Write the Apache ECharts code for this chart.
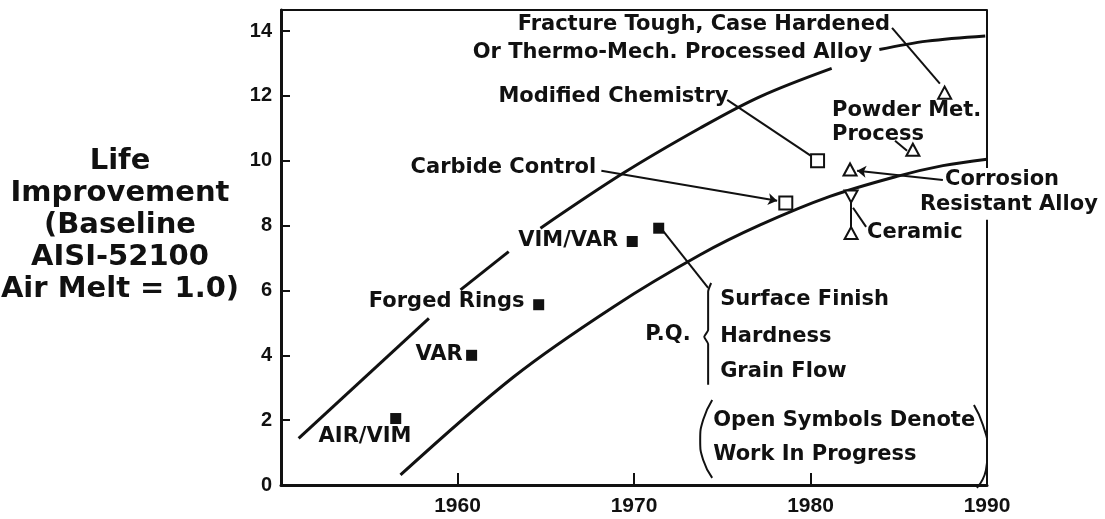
<!DOCTYPE html>
<html>
<head>
<meta charset="utf-8">
<script src="https://cdn.jsdelivr.net/npm/echarts@6/dist/echarts.min.js"></script>
<style>
html,body{margin:0;padding:0;background:#fff;}
#chart{width:1105px;height:519px;}
</style>
</head>
<body>
<div id="chart"></div>
<script>
// ---- data (years on x, life improvement on y) ----
const xTickValues = [1960, 1970, 1980, 1990];
const yTickValues = [0, 2, 4, 6, 8, 10, 12, 14];

// upper envelope curve (null = gap where text crosses)
const upperCurve = [
  [1951.0, 1.44], [1958.38, 5.14], null,
  [1960.17, 6.02], [1962.9, 7.2], null,
  [1964.7, 7.92], [1969.4, 9.62], [1973.75, 11.01], [1977.15, 11.98], [1981.2, 12.85], null,
  [1983.9, 13.43], [1986.6, 13.69], [1989.9, 13.85]
];
// lower envelope curve
const lowerCurve = [
  [1956.77, 0.31], [1963.19, 3.34], [1968.85, 5.5], [1973.75, 7.1],
  [1977.15, 8.02], [1981.1, 8.9], [1984.9, 9.52], [1987.5, 9.85], [1990, 10.05]
];

// achieved (filled) improvements
const filledNames = ['AIR/VIM', 'VAR', 'Forged Rings', 'VIM/VAR', 'P.Q.'];
const filledValues = [[1956.5, 2.05], [1960.8, 4.0], [1964.6, 5.56], [1969.9, 7.51], [1971.4, 7.92]];

// work in progress (open symbols)
const openSquareNames = ['Modified Chemistry', 'Carbide Control'];
const openSquareValues = [[1980.4, 10.0], [1978.6, 8.7]];
const openTriangleNames = ['Fracture Tough', 'Powder Met. Process', 'Corrosion Resistant Alloy', 'Ceramic'];
const openTriangleValues = [[1987.6, 12.1], [1985.8, 10.34], [1982.24, 9.73], [1982.3, 7.77]];
const openTriangleDownValues = [[1982.3, 8.9]];

// leader lines [from, to]
const leaderLines = [
  [[1984.62, 14.1], [1987.33, 12.38]],
  [[1975.28, 11.88], [1980.03, 10.15]],
  [[1984.79, 10.62], [1985.47, 10.31]],
  [[1982.28, 8.8], [1982.28, 7.93]],
  [[1982.41, 8.55], [1983.15, 7.96]],
  [[1971.6, 7.87], [1974.2, 6.08]]
];
const arrowLines = [
  [[1968.15, 9.69], [1978.11, 8.77]],
  [[1987.5, 9.41], [1982.64, 9.69]]
];

// brace and parentheses outlines
const bracePath = [[1974.37, 6.23], [1974.2, 5.96], [1974.2, 4.78], [1973.98, 4.57], [1974.2, 4.35], [1974.2, 3.09]];
const leftParenPath = [[1974.43, 2.62], [1973.92, 2.01], [1973.75, 1.39], [1973.92, 0.77], [1974.43, 0.22]];
const rightParenPath = [[1989.26, 2.47], [1989.77, 1.85], [1990.05, 1.08], [1989.94, 0.46], [1989.43, -0.09]];
const rightBorder = [[[1990, 0], [1990, 8.18]], [[1990, 9.78], [1990, 14.65]]];

// annotation texts: [text, x, y, side] side L = text starts at point, R = text ends at point
const annotationTexts = [
  ['Fracture Tough, Case Hardened', 1984.5, 14.2, 'R'],
  ['Or Thermo-Mech. Processed Alloy', 1983.49, 13.33, 'R'],
  ['Modified Chemistry', 1962.32, 11.98, 'L'],
  ['Carbide Control', 1957.34, 9.78, 'L'],
  ['VIM/VAR', 1969.1, 7.53, 'R'],
  ['Forged Rings', 1963.8, 5.65, 'R'],
  ['VAR', 1960.3, 4.01, 'R'],
  ['AIR/VIM', 1952.13, 1.48, 'L'],
  ['P.Q.', 1970.64, 4.63, 'L'],
  ['Surface Finish', 1974.88, 5.71, 'L'],
  ['Hardness', 1974.88, 4.57, 'L'],
  ['Grain Flow', 1974.88, 3.49, 'L'],
  ['Open Symbols Denote', 1974.49, 1.98, 'L'],
  ['Work In Progress', 1974.49, 0.93, 'L'],
  ['Powder Met.', 1981.22, 11.54, 'L'],
  ['Process', 1981.22, 10.8, 'L'],
  ['Corrosion', 1987.62, 9.41, 'L'],
  ['Resistant Alloy', 1986.2, 8.64, 'L'],
  ['Ceramic', 1983.2, 7.78, 'L']
];
const yAxisTitle = ['Life', 'Improvement', '(Baseline', 'AISI-52100', 'Air Melt = 1.0)'];

// ---- chart ----
const INK = '#111';
const textFont = { fontFamily: 'DejaVu Sans', fontWeight: 'bold', fontSize: 21, color: INK };

function splitSegments(arr) {
  const segs = [[]];
  arr.forEach(p => { if (p === null) segs.push([]); else segs[segs.length - 1].push(p); });
  return segs.filter(s => s.length);
}
function lineSeries(data, width, smooth) {
  return {
    type: 'line', data: data, smooth: smooth, symbol: 'none', silent: true, clip: false,
    lineStyle: { color: INK, width: width, opacity: 1 }, z: 3, animation: false
  };
}

const series = [];
splitSegments(upperCurve).forEach(s => series.push(lineSeries(s, 3, 0.35)));
series.push(lineSeries(lowerCurve, 3, 0.35));
series.push(lineSeries(bracePath, 2, 0.2));
series.push(lineSeries(leftParenPath, 2, 0.5));
series.push(lineSeries(rightParenPath, 2, 0.5));
rightBorder.forEach(s => series.push(lineSeries(s, 2, false)));

series.push({
  type: 'lines', coordinateSystem: 'cartesian2d', silent: true, animation: false, z: 3,
  data: leaderLines.map(c => ({ coords: c })),
  lineStyle: { color: INK, width: 2, curveness: 0, opacity: 1 }
});
series.push({
  type: 'lines', coordinateSystem: 'cartesian2d', silent: true, animation: false, z: 3,
  symbol: ['none', 'arrow'], symbolSize: 9,
  data: arrowLines.map(c => ({ coords: c })),
  lineStyle: { color: INK, width: 2, curveness: 0, opacity: 1 }
});
series.push({
  type: 'scatter', data: filledValues, symbol: 'rect', symbolSize: 11, silent: true, animation: false, z: 5,
  itemStyle: { color: INK, opacity: 1 }
});
series.push({
  type: 'scatter', data: openSquareValues, symbol: 'rect', symbolSize: 13, silent: true, animation: false, z: 5,
  itemStyle: { color: '#fff', borderColor: INK, borderWidth: 2, opacity: 1 }
});
series.push({
  type: 'scatter', data: openTriangleValues, symbol: 'triangle', symbolSize: [13, 12], silent: true, animation: false, z: 5,
  itemStyle: { color: '#fff', borderColor: INK, borderWidth: 2, opacity: 1 }
});
series.push({
  type: 'scatter', data: openTriangleDownValues, symbol: 'triangle', symbolRotate: 180, symbolSize: [13, 12], silent: true, animation: false, z: 5,
  itemStyle: { color: '#fff', borderColor: INK, borderWidth: 2, opacity: 1 }
});
series.push({
  type: 'scatter', silent: true, animation: false, z: 6, symbolSize: 0,
  itemStyle: { color: INK, opacity: 1 },
  data: annotationTexts.map(a => ({
    value: [a[1], a[2]],
    label: {
      show: true, formatter: a[0], position: a[3] === 'L' ? 'right' : 'left', distance: 0,
      ...textFont
    }
  }))
});

const chart = echarts.init(document.getElementById('chart'), null, { renderer: 'canvas' });
chart.setOption({
  animation: false,
  backgroundColor: '#fff',
  grid: { left: 281, right: 118, top: 10, bottom: 34, containLabel: false },
  xAxis: [{
    type: 'value', min: 1950, max: 1990, position: 'bottom',
    splitLine: { show: false },
    axisLine: { show: true, onZero: false, lineStyle: { color: INK, width: 3 } },
    axisTick: { show: true, inside: true, length: 12, lineStyle: { color: INK, width: 2 }, customValues: xTickValues },
    axisLabel: { show: true, customValues: xTickValues, formatter: v => String(v), margin: 11, fontFamily: 'Liberation Sans', fontWeight: 'bold', fontSize: 21, color: INK }
  }, {
    type: 'value', min: 1950, max: 1990, position: 'top',
    splitLine: { show: false },
    axisLine: { show: true, onZero: false, lineStyle: { color: INK, width: 2 } },
    axisTick: { show: false }, axisLabel: { show: false }
  }],
  yAxis: {
    type: 'value', min: 0, max: 14.65,
    splitLine: { show: false },
    axisLine: { show: true, onZero: false, lineStyle: { color: INK, width: 3 } },
    axisTick: { show: true, inside: true, length: 9, lineStyle: { color: INK, width: 2 }, customValues: yTickValues },
    axisLabel: { show: true, customValues: yTickValues, formatter: v => String(v), margin: 9, fontFamily: 'Liberation Sans', fontWeight: 'bold', fontSize: 20, color: INK }
  },
  graphic: [{
    type: 'text', x: 120, y: 225, silent: true,
    style: {
      text: yAxisTitle.join('\n'), fill: INK,
      font: 'bold 29px "DejaVu Sans"', align: 'center', verticalAlign: 'middle', lineHeight: 32
    }
  }],
  series: series
});
</script>
</body>
</html>
